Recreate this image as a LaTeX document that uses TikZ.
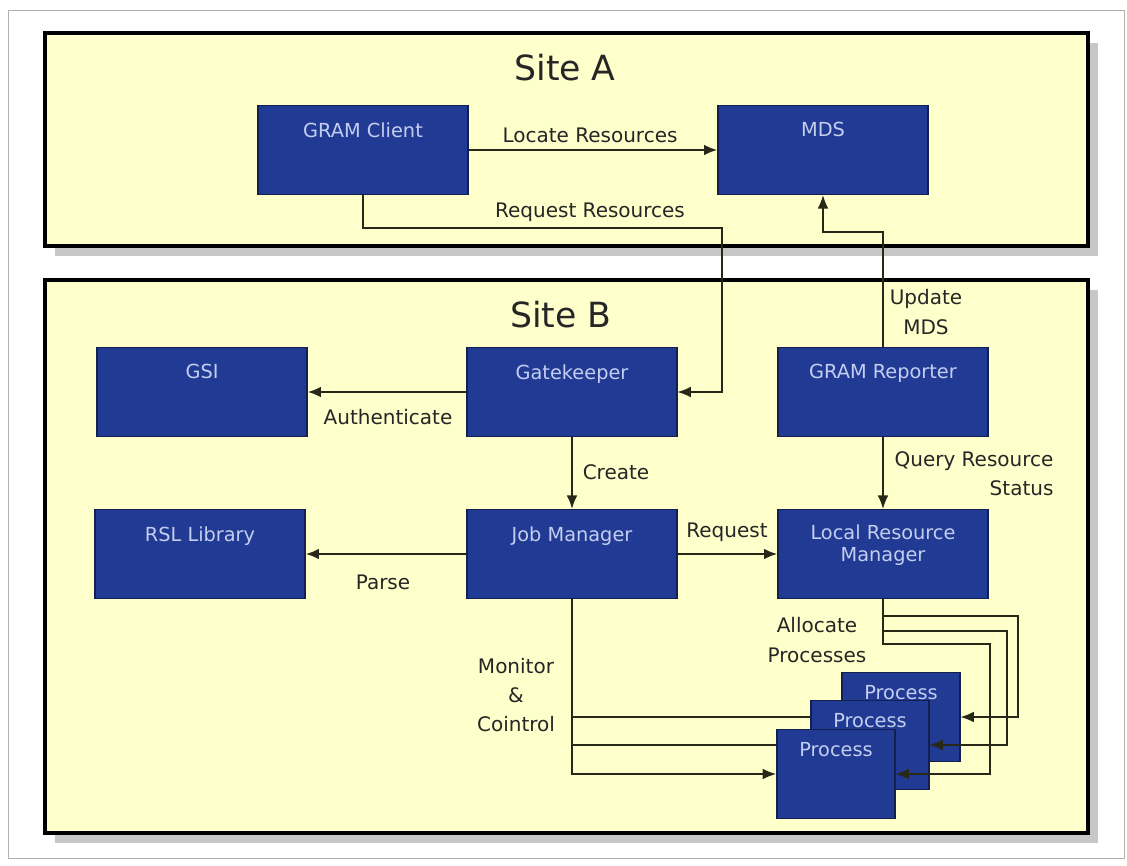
\documentclass[tikz,border=0pt]{standalone}
\usepackage{fontspec}
\setmainfont{DejaVu Sans}
\usetikzlibrary{arrows,arrows.meta}
\definecolor{siteyellow}{RGB}{255,255,204}
\definecolor{boxblue}{RGB}{33,58,148}
\definecolor{boxtext}{RGB}{196,206,240}
\definecolor{linecol}{RGB}{40,40,25}

\begin{document}
\begin{tikzpicture}[x=0.75pt, y=-0.75pt, >={Latex[length=10pt,width=8pt]},
    sitebox/.style={draw=black, line width=2.8pt, fill=siteyellow},
    siteshadow/.style={fill=black!22, draw=none},
    sitetitle/.style={inner sep=0pt, text=black!85, font=\fontsize{26}{30}\selectfont},
    block/.style={rectangle, draw=boxblue!55!black, line width=0.8pt, fill=boxblue, inner sep=0pt, minimum width=157.5pt, minimum height=67pt},
    procblock/.style={block, minimum width=88.5pt, minimum height=67pt},
    blocktext/.style={anchor=north, yshift=-13pt, inner sep=0pt, text=boxtext, align=center, font=\fontsize{14.5}{16.5}\selectfont},
    flowlabel/.style={inner sep=0pt, align=center, text=black!85, font=\fontsize{15}{22}\selectfont},
    mainflow/.style={->, draw=linecol, line width=1.8pt},
    flow/.style={->, draw=linecol, line width=0.9pt}]

    \useasboundingbox[fill=white] (0,0) rectangle (1127,865);
    \draw[black!30] (8,10) rectangle (1124,858);

    % the two sites
    \fill[siteshadow] (55,43) rectangle (1098,256);
    \fill[siteshadow] (55,290) rectangle (1098,843);
    \draw[sitebox] (45,33) rectangle (1088,246);
    \draw[sitebox] (45,280) rectangle (1088,833);
    \node[sitetitle] (titleA) at (565,68) {Site A};
    \node[sitetitle] (titleB) at (561,315) {Site B};

    \node[block, label={[blocktext]north:GRAM Client}] (client) at (363,150) {};
    \node[block, label={[blocktext]north:MDS}] (mds) at (823,150) {};
    \node[block, label={[blocktext]north:GSI}] (gsi) at (202,392) {};
    \node[block, label={[blocktext]north:Gatekeeper}] (gatekeeper) at (572,392) {};
    \node[block, label={[blocktext]north:GRAM Reporter}] (reporter) at (883,392) {};
    \node[block, label={[blocktext]north:RSL Library}] (rsl) at (200,554) {};
    \node[block, label={[blocktext]north:Job Manager}] (jobmgr) at (572,554) {};
    \node[block, label={[blocktext, yshift=1pt]north:Local Resource\\Manager}] (lrm) at (883,554) {};

    % monitor lines first, so that the process boxes cover them
    \draw[flow] (jobmgr.south) |- (841,717);
    \draw[flow] (jobmgr.south) |- (810,745);
    \draw[flow] (jobmgr.south) |- (776,774);

    \node[procblock, label={[blocktext, yshift=3pt]north:Process}] (p3) at (901,717) {};
    \node[procblock, label={[blocktext, yshift=3pt]north:Process}] (p2) at (870,745) {};
    \node[procblock, label={[blocktext, yshift=3pt]north:Process}] (p1) at (836,774) {};

            \draw[mainflow] (client) -- (mds);
            \draw[flow] (client.south) |- (722,228) |- (gatekeeper.east);
            \draw[flow] (reporter.north) |- (823,232) -- (mds.south);
            \draw[mainflow] (gatekeeper) -- (gsi);
            \draw[flow, line width=1.2pt] (gatekeeper) -- (jobmgr);
            \draw[mainflow] (jobmgr) -- (rsl);
            \draw[mainflow] (jobmgr) -- (lrm);
            \draw[flow] (reporter) -- (lrm);
            \draw[flow] (lrm.south) |- (1018,616) |- (p3.east);
            \draw[flow] (lrm.south) |- (1007,631) |- (p2.east);
            \draw[flow] (lrm.south) |- (990,644) |- (p1.east);

    \node[flowlabel] (locate) at (590,135) {Locate Resources};
    \node[flowlabel] (request) at (590,212) {Request Resources};
    \node[flowlabel] (update) at (926,312) {Update\\MDS};
    \node[flowlabel] (auth) at (388,417) {Authenticate};
    \node[flowlabel] (create) at (616,472) {Create};
    \node[flowlabel, align=right] (query) at (974,474) {Query Resource\\Status};
    \node[flowlabel] (req) at (727,532) {Request};
    \node[flowlabel] (parse) at (383,582) {Parse};
    \node[flowlabel] (alloc) at (817,640) {Allocate\\Processes};
    \node[flowlabel] (monitor) at (516,695) {Monitor\\\&\\Cointrol};

\end{tikzpicture}
\end{document}
